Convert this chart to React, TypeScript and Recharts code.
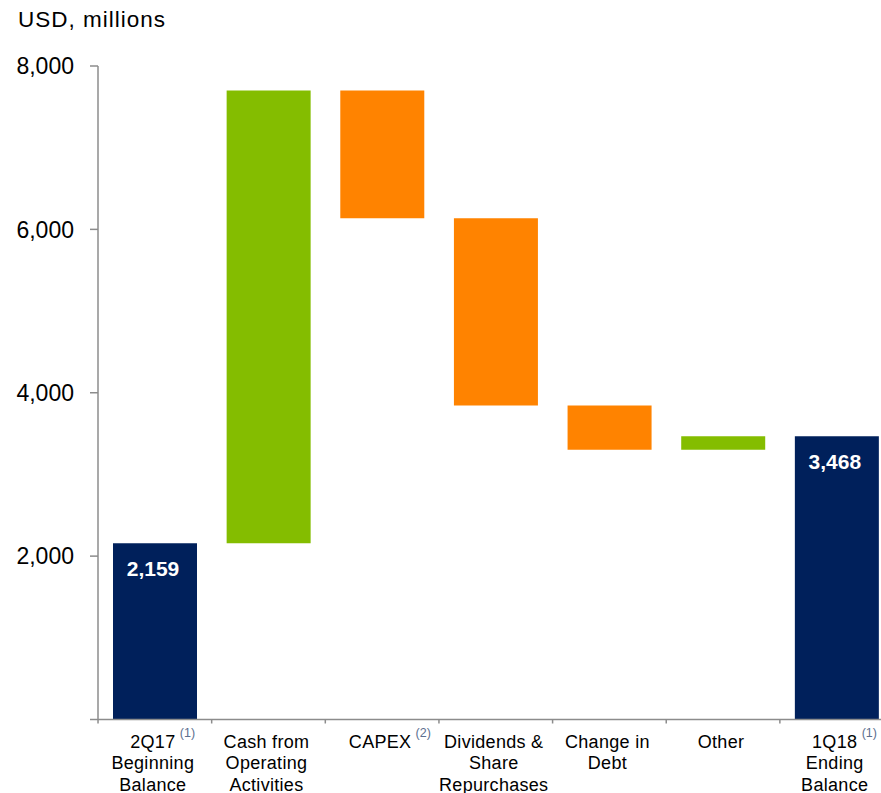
import React from "react";
import { BarChart, Bar, XAxis, YAxis, Cell, LabelList } from "recharts";

const categories = [
  "2Q17|Beginning|Balance",
  "Cash from|Operating|Activities",
  "CAPEX",
  "Dividends &|Share|Repurchases",
  "Change in|Debt",
  "Other",
  "1Q18|Ending|Balance",
];
const superscripts = ["(1)", "", "(2)", "", "", "", "(1)"];
const stepValues = [2159, 5542, -1564, -2293, -542, 166, 3468];
const stepKinds = ["total", "delta", "delta", "delta", "delta", "delta", "total"];
const yTicks = [0, 2000, 4000, 6000, 8000];

const COLORS: Record<string, string> = {
  total: "#00205B",
  up: "#84BD00",
  down: "#FF8300",
};

let running = 0;
const data = categories.map((name, i) => {
  const v = stepValues[i];
  if (stepKinds[i] === "total") {
    running = v;
    return { name, base: 0, size: v, kind: "total", value: v };
  }
  const start = running;
  const end = running + v;
  running = end;
  return {
    name,
    base: Math.min(start, end),
    size: Math.abs(v),
    kind: v >= 0 ? "up" : "down",
    value: v,
  };
});

const FONT = "'Liberation Sans', Arial, Helvetica, sans-serif";
const BAND = 113.6;

function measure(text: string, size: number) {
  try {
    const c = document.createElement("canvas").getContext("2d");
    if (c) {
      c.font = `${size}px ${FONT}`;
      return c.measureText(text).width;
    }
  } catch (e) {}
  return text.length * size * 0.55;
}

const XTick = (props: any) => {
  const { x, y, payload, index } = props;
  const lines = String(payload.value).split("|");
  const sup = superscripts[index];
  const w0 = measure(lines[0], 18);
  return (
    <g>
      <line x1={x - BAND / 2} x2={x - BAND / 2} y1={y} y2={y + 4} stroke="#8c8c8c" strokeWidth={1.5} />
      {lines.map((l, i) => (
        <text
          key={i}
          x={x - 2}
          y={y + 28 + i * 21.5}
          textAnchor="middle"
          fontFamily={FONT}
          fontSize={18}
          letterSpacing={0.3}
          fill="#000"
        >
          {l}
        </text>
      ))}
      {sup ? (
        <text x={x - 2 + w0 / 2 + 5} y={y + 17} fontFamily={FONT} fontSize={12.5} fill="#5c6f8f">
          {sup}
        </text>
      ) : null}
    </g>
  );
};

const TotalLabel = (props: any) => {
  const { x, y, width, index } = props;
  if (data[index].kind !== "total") return null;
  return (
    <text
      x={x + width / 2 - 2}
      y={y + 33}
      textAnchor="middle"
      fontFamily={FONT}
      fontSize={21}
      fontWeight="bold"
      fill="#fff"
    >
      {data[index].value.toLocaleString("en-US")}
    </text>
  );
};

export default function App() {
  return (
    <div
      style={{
        position: "absolute",
        left: 0,
        top: 0,
        width: 881,
        height: 793,
        overflow: "hidden",
        background: "#fff",
      }}
    >
      <div
        style={{
          position: "absolute",
          left: 18,
          top: 7,
          fontFamily: FONT,
          fontSize: 22.5,
          letterSpacing: 1,
          color: "#000",
        }}
      >
        USD, millions
      </div>
      <BarChart
        width={900}
        height={793}
        data={data}
        margin={{ top: 66, right: 6.5, bottom: 0, left: 0 }}
        barSize={84}
      >
        <XAxis
          dataKey="name"
          interval={0}
          height={73.5}
          tickSize={0}
          tickMargin={0}
          tickLine={false}
          axisLine={{ stroke: "#8c8c8c", strokeWidth: 1.5 }}
          tick={<XTick />}
        />
        <YAxis
          width={98}
          domain={[0, 8000]}
          ticks={yTicks}
          interval={0}
          tickSize={8}
          tickMargin={16}
          axisLine={{ stroke: "#8c8c8c", strokeWidth: 1.5 }}
          tickLine={{ stroke: "#8c8c8c", strokeWidth: 1.5 }}
          tick={{ fontFamily: FONT, fontSize: 23, fill: "#000" }}
          tickFormatter={(v: number) => (v === 0 ? "" : v.toLocaleString("en-US"))}
        />
        <Bar dataKey="base" stackId="a" fill="transparent" isAnimationActive={false} />
        <Bar dataKey="size" stackId="a" isAnimationActive={false}>
          {data.map((d, i) => (
            <Cell key={i} fill={COLORS[d.kind]} />
          ))}
          <LabelList dataKey="size" content={<TotalLabel />} />
        </Bar>
      </BarChart>
    </div>
  );
}
